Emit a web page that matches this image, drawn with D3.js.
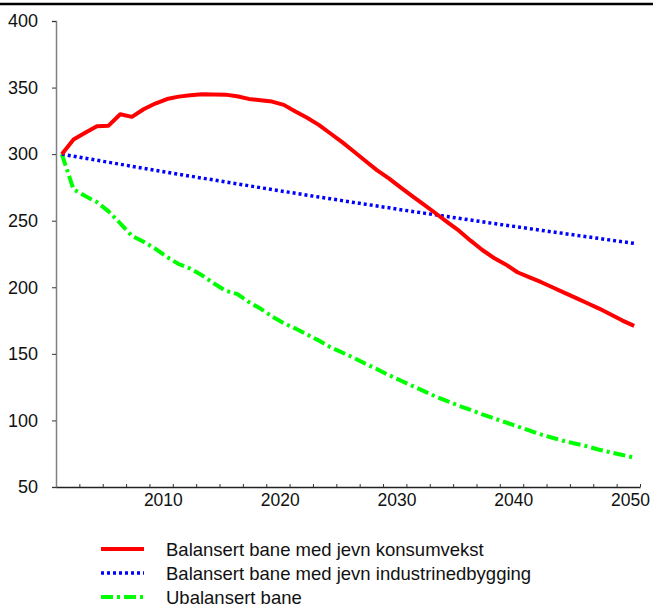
<!DOCTYPE html>
<html>
<head>
<meta charset="utf-8">
<script src="https://cdn.jsdelivr.net/npm/d3@7"></script>
<style>
  html, body { margin: 0; padding: 0; background: #fff; }
  svg { display: block; }
  text { font-family: "Liberation Sans", Arial, sans-serif; fill: #111; }
</style>
</head>
<body>
<svg id="chart" width="653" height="611"></svg>
<script>
// ---- Data ----
const years = d3.range(2001, 2051);
const seriesNames = [
  "Balansert bane med jevn konsumvekst",
  "Balansert bane med jevn industrinedbygging",
  "Ubalansert bane"
];
const konsumvekst = [
  300, 311, 316, 321, 321.4, 330, 328, 333.7, 338, 341.4,
  343.2, 344.2, 345, 344.8, 344.7, 343.5, 341.5, 340.5, 339.5, 337,
  332, 327.3, 322, 315.5, 309, 302, 294.8, 287.8, 281.8, 275,
  268.5, 262.1, 255.6, 249, 242.5, 235, 228, 222, 217.2, 211.3,
  207.7, 204, 200, 196, 192, 188, 184, 179.5, 175, 171
];
const industrinedbygging = [
  300, 298.5, 296.9, 295.4, 293.9, 292.4, 290.9, 289.4, 287.9, 286.4,
  284.9, 283.5, 282.0, 280.6, 279.1, 277.7, 276.3, 274.8, 273.4, 272.0,
  270.6, 269.2, 267.8, 266.5, 265.1, 263.7, 262.4, 261.0, 259.7, 258.3,
  257.0, 255.7, 254.4, 253.1, 251.8, 250.5, 249.2, 247.9, 246.6, 245.4,
  244.1, 242.8, 241.6, 240.4, 239.1, 237.9, 236.7, 235.4, 234.2, 233.0
];
const ubalansert = [
  300, 273.5, 268.5, 264, 257, 248, 238.6, 234.2, 229, 222.7,
  217.5, 214, 209, 203, 197.5, 195, 189, 184, 178, 173,
  169, 164.5, 160, 155, 151, 147, 142.5, 138.5, 134, 130,
  126, 122, 118, 114.5, 111, 108, 104.5, 101.5, 98.5, 95.5,
  92.5, 89.5, 87, 84.5, 82.5, 80.5, 78, 76, 74, 72
];
const yTicks = [50, 100, 150, 200, 250, 300, 350, 400];
const xLabelYears = [2010, 2020, 2030, 2040, 2050];

// ---- Layout ----
const svg = d3.select("#chart");
const plotLeft = 56, plotRight = 640, plotTop = 21, plotBottom = 487;

const x = d3.scaleLinear().domain([years[0] - 0.5, years[years.length - 1] + 0.5]).range([plotLeft, plotRight]);
const y = d3.scaleLinear().domain([50, 400]).range([plotBottom, plotTop]);

// top rule
svg.append("line").attr("x1", 0).attr("x2", 653).attr("y1", 4).attr("y2", 4)
  .attr("stroke", "#000").attr("stroke-width", 2.6);

// Y axis
const yAxis = svg.append("g").attr("transform", `translate(${plotLeft},0)`)
  .call(d3.axisLeft(y).tickValues(yTicks).tickSize(4).tickPadding(14).tickFormat(d3.format("d")));
yAxis.select(".domain").attr("stroke", "#808080").attr("stroke-width", 1.5);
yAxis.selectAll(".tick line").attr("stroke", "#333");
yAxis.selectAll(".tick text").attr("font-size", 18).attr("fill", "#111")
  .attr("font-family", "Liberation Sans, Arial, sans-serif");

// X axis ticks (every 2 categories, pointing up)
const xTickVals = d3.range(1, 26).map(k => years[0] - 0.5 + 2 * k);
const xAxis = svg.append("g").attr("transform", `translate(0,${plotBottom})`)
  .call(d3.axisBottom(x).tickValues(xTickVals).tickSizeInner(-3).tickSizeOuter(0).tickFormat(""));
xAxis.select(".domain").attr("stroke", "#222").attr("stroke-width", 1.5);
xAxis.selectAll(".tick line").attr("stroke", "#333");

// X labels
svg.append("g").selectAll("text").data(xLabelYears).join("text")
  .attr("x", d => x(d) - 3.6).attr("y", 506)
  .attr("text-anchor", "middle").attr("font-size", 17.5)
  .text(d => d);

// Lines
const line = d3.line().x((d, i) => x(years[i])).y(d => y(d));
const styles = [
  { data: konsumvekst, color: "#FF0000", width: 4, dash: null },
  { data: industrinedbygging, color: "#0000FF", width: 3.5, dash: "3,3" },
  { data: ubalansert, color: "#00FF00", width: 4, dash: "12,4,3,4" }
];
[styles[2], styles[1], styles[0]].forEach(s => {
  svg.append("path").datum(s.data).attr("d", line)
    .attr("fill", "none").attr("stroke", s.color).attr("stroke-width", s.width)
    .attr("stroke-dasharray", s.dash).attr("stroke-linejoin", "round");
});

// Legend
const legY = [549, 573, 597];
const leg = svg.append("g");
styles.forEach((s, i) => {
  leg.append("line").attr("x1", 101).attr("x2", 144).attr("y1", legY[i]).attr("y2", legY[i])
    .attr("stroke", s.color).attr("stroke-width", s.width).attr("stroke-dasharray", s.dash);
  leg.append("text").attr("x", 166).attr("y", legY[i] + 7.4).attr("font-size", 18.5)
    .text(seriesNames[i]);
});
</script>
</body>
</html>
